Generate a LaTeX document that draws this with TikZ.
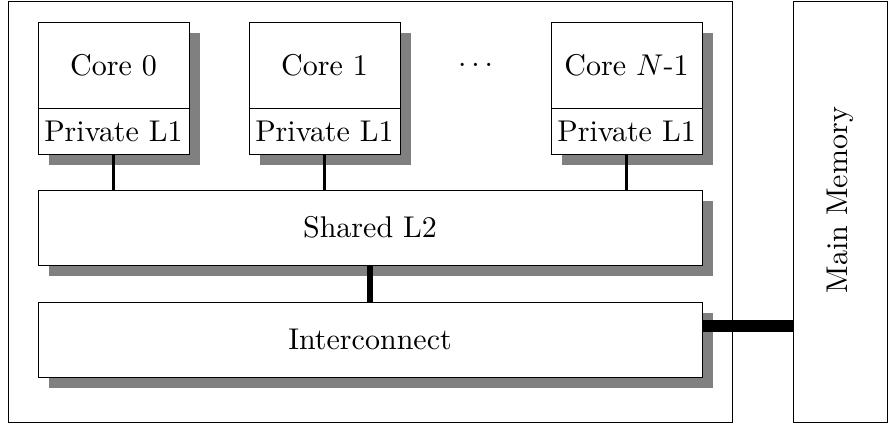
\documentclass[tikz,border=0pt]{standalone}
\usepackage{amsmath}
\usepackage{xcolor}
\usepackage{tikz}
\usetikzlibrary{positioning,shadows,calc}

\begin{document}
\begin{tikzpicture}[
    x=0.3333pt, y=-0.3333pt,
    node distance=20pt,
    unit/.style={rectangle, draw, fill=white, inner sep=0pt, outer sep=0pt, line width=0.3pt,
        drop shadow={shadow xshift=3.67pt, shadow yshift=-3.67pt, fill=black!50, opacity=1}},
    core/.style={unit, minimum width=50.33pt, minimum height=28.67pt},
    cache/.style={unit, minimum width=50.33pt, minimum height=15.33pt},
    bar/.style={unit, minimum width=221.33pt, minimum height=25pt},
    link/.style={line width=0.9pt}
]
\useasboundingbox (0,0) rectangle (888,423);

\node[draw, line width=0.3pt, inner sep=0pt, minimum width=241.33pt, minimum height=140.33pt] (chip) at (370,211.5) {};
\node[draw, line width=0.3pt, inner sep=0pt, minimum width=31.33pt, minimum height=140.33pt] (mem) at (840,211.5) {};
\node[rotate=90] (memtext) at ([yshift=3.8pt]mem.center) {Main Memory};

\node[core] (core0) at (113.5,65) {Core 0};
\node[core, right=20pt of core0] (core1) {Core 1};
\node[core, right=50.33pt of core1] (coren) {Core $N$-1};
\node (dots) at ($(core1.east)!0.5!(coren.west)$) {$\ldots$};

\node[cache, below=0pt of core0] (l1a) {Private L1};
\node[cache, below=0pt of core1] (l1b) {Private L1};
\node[cache, below=0pt of coren] (l1n) {Private L1};

\node[bar] (l2) at (370,227.5) {Shared L2};
\node[bar, below=12.33pt of l2] (ic) {Interconnect};

\draw[link] (l1a.south) -- (l1a.south |- l2.north);
\draw[link] (l1b.south) -- (l1b.south |- l2.north);
\draw[link] (l1n.south) -- (l1n.south |- l2.north);
\draw[line width=2pt] (l2.south) -- (ic.north);
\draw[line width=4pt] ([yshift=4.5pt]ic.east) -- ([yshift=4.5pt]ic.east -| mem.west);

\end{tikzpicture}
\end{document}
